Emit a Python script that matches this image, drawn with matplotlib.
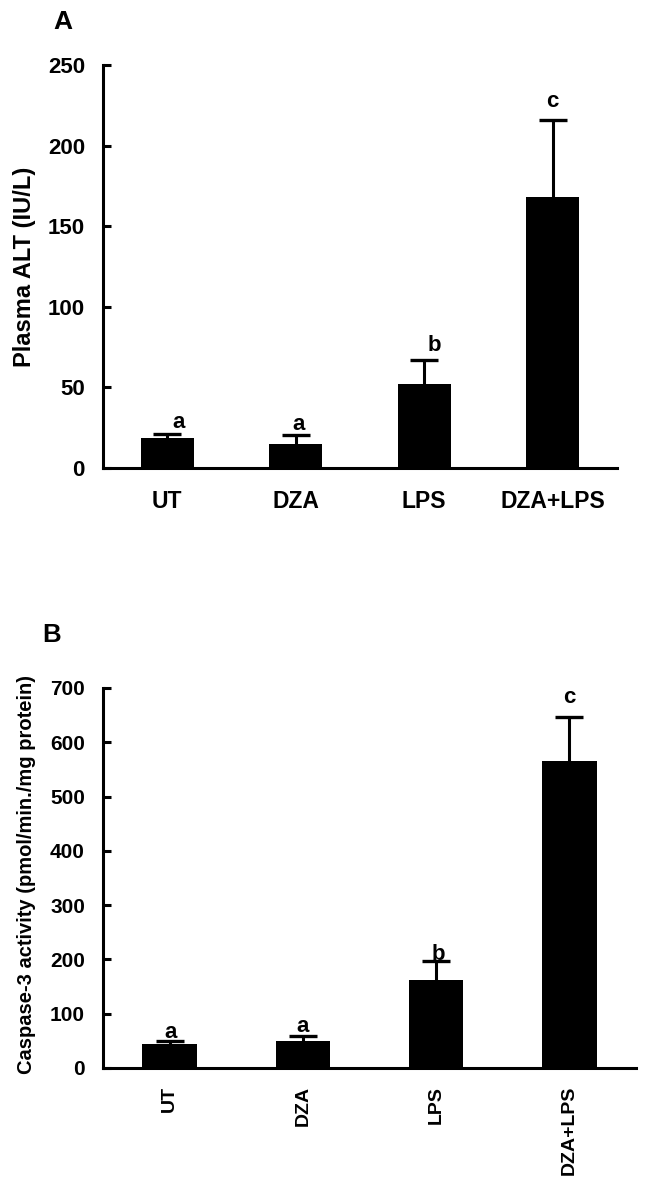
import matplotlib
matplotlib.use("Agg")
import matplotlib.pyplot as plt

plt.rcParams["font.family"] = ["Liberation Sans", "DejaVu Sans"]
plt.rcParams["font.weight"] = "bold"

groups = ["UT", "DZA", "LPS", "DZA+LPS"]

# 图A：血浆ALT
alt_mean = [18.8, 14.7, 52.0, 168.3]
alt_err = [2.3, 5.8, 15.3, 47.6]
alt_sig = ["a", "a", "b", "c"]
alt_sig_y = [24.6, 23.6, 72.4, 224.0]
alt_sig_dx = [0.086, 0.023, 0.08, 0.0]

# 图B：Caspase-3活性
casp_mean = [44.2, 50.3, 162.8, 565.5]
casp_err = [6.1, 9.2, 34.9, 81.5]
casp_sig = ["a", "a", "b", "c"]
casp_sig_y = [54.7, 65.8, 199.0, 671.8]
casp_sig_dx = [0.01, 0.0, 0.02, 0.0]


def draw_panel(ax, means, errs, sig, sig_y, sig_dx, ymax, ystep, ytick_size, xtick_size, rotate):
    x = list(range(1, len(means) + 1))
    ax.bar(x, means, width=0.41, color="black", zorder=2)
    eb = ax.errorbar(x, means, yerr=[[0] * len(errs), errs], fmt="none",
                     ecolor="black", elinewidth=2.2, capsize=10, capthick=2.4, zorder=1)
    # 只保留上方误差帽
    eb[1][0].set_visible(False)
    for xi, s, yy, dx in zip(x, sig, sig_y, sig_dx):
        ax.text(xi + dx, yy, s, ha="center", va="baseline", fontsize=16, fontweight="bold")
    ax.set_xlim(0.5, len(means) + 0.5)
    ax.set_ylim(0, ymax)
    ax.set_yticks(range(0, ymax + 1, ystep))
    ax.set_xticks(x)
    ax.set_xticklabels(groups, rotation=90 if rotate else 0)
    ax.spines["top"].set_visible(False)
    ax.spines["right"].set_visible(False)
    ax.spines["left"].set_linewidth(2.2)
    ax.spines["bottom"].set_linewidth(2.2)
    ax.tick_params(axis="y", direction="in", length=6, width=2.2, labelsize=ytick_size, pad=13)
    ax.tick_params(axis="x", length=0, labelsize=xtick_size, pad=13 if rotate else 16)
    for lab in ax.get_xticklabels() + ax.get_yticklabels():
        lab.set_fontweight("bold")


fig = plt.figure(figsize=(6.53, 11.87), dpi=100)

axA = fig.add_axes([0.1577, 0.6057, 0.7871, 0.3395])
draw_panel(axA, alt_mean, alt_err, alt_sig, alt_sig_y, alt_sig_dx, 250, 50, 16, 16.5, False)

axB = fig.add_axes([0.1577, 0.1003, 0.8162, 0.3201])
draw_panel(axB, casp_mean, casp_err, casp_sig, casp_sig_y, casp_sig_dx, 700, 100, 15, 14, True)

fig.text(25 / 653, 1 - 266.5 / 1187, "Plasma ALT (IU/L)", rotation=90,
         ha="center", va="center", fontsize=17, fontweight="bold")
fig.text(27 / 653, 1 - 875 / 1187, "Caspase-3 activity (pmol/min./mg protein)", rotation=90,
         ha="center", va="center", fontsize=14.5, fontweight="bold")

fig.text(53 / 653, 1 - 29 / 1187, "A", fontsize=19, fontweight="bold", va="baseline")
fig.text(42 / 653, 1 - 642 / 1187, "B", fontsize=18.5, fontweight="bold", va="baseline")

fig.savefig("out.png", dpi=100)
